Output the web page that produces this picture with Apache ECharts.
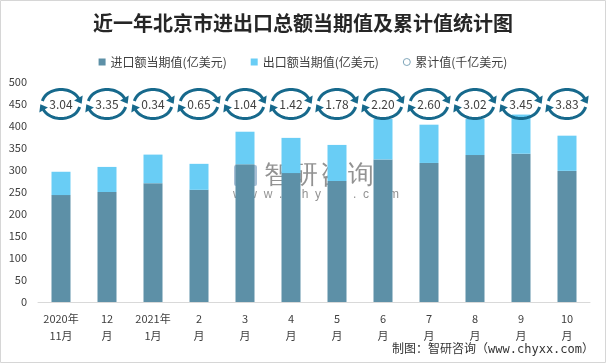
<!DOCTYPE html>
<html>
<head>
<meta charset="utf-8">
<script src="https://cdn.jsdelivr.net/npm/echarts@6/dist/echarts.min.js"></script>
<style>
html,body{margin:0;padding:0;background:#fff;}
#c{width:606px;height:363px;}
</style>
</head>
<body>
<div id="c"></div>
<script>
// ---- data ----
var categories = ['2020年\n11月','12\n月','2021年\n1月','2\n月','3\n月','4\n月','5\n月','6\n月','7\n月','8\n月','9\n月','10\n月'];
var importValues = [243, 250, 270, 255, 313, 293, 275, 324, 316, 334, 337, 298];
var exportValues = [53, 57, 65, 59, 74, 80, 82, 92, 87, 82, 89, 80];
var cumulativeValues = [3.04, 3.35, 0.34, 0.65, 1.04, 1.42, 1.78, 2.20, 2.60, 3.02, 3.45, 3.83];
var cumulativeRow = 450; // y level where the cumulative badges sit
var yTicks = {min: 0, max: 500, interval: 50};

var names = ['进口额当期值(亿美元)', '出口额当期值(亿美元)', '累计值(千亿美元)'];
var ringColor = '#17698C';
var textColor = '#404040';

var cumData = cumulativeValues.map(function (v, i) { return [i, cumulativeRow, v]; });

function ellipsePts(cx, cy, rx, ry, a0, a1, n) {
  var pts = [];
  for (var k = 0; k <= n; k++) {
    var t = (a0 + (a1 - a0) * k / n) * Math.PI / 180;
    pts.push([cx + rx * Math.cos(t), cy + ry * Math.sin(t)]);
  }
  return pts;
}
function arrowHead(cx, cy, rx, ry, a) {
  var t = a * Math.PI / 180;
  var bx = cx + rx * Math.cos(t), by = cy + ry * Math.sin(t);
  var tx = -rx * Math.sin(t), ty = ry * Math.cos(t);
  var tl = Math.sqrt(tx * tx + ty * ty); tx /= tl; ty /= tl;
  var nx = ty, ny = -tx;
  var L = 6.5, W = 5;
  return [[bx + tx * L, by + ty * L], [bx + nx * W, by + ny * W], [bx - nx * W, by - ny * W]];
}

var chart = echarts.init(document.getElementById('c'), null, {renderer: 'canvas'});
var font = '"Microsoft YaHei", "Noto Sans CJK SC", "Liberation Sans", sans-serif';
var wm = 'rgba(100,100,100,0.7)';

chart.setOption({
  animation: false,
  backgroundColor: '#fff',
  textStyle: {fontFamily: font},
  title: {
    text: '近一年北京市进出口总额当期值及累计值统计图',
    left: 'center', top: 8,
    textStyle: {fontSize: 20, fontWeight: 'bold', color: '#262626', fontFamily: '"Noto Sans CJK SC", sans-serif'}
  },
  legend: {
    top: 51, left: 'center',
    itemWidth: 7, itemHeight: 7, itemGap: 24,
    textStyle: {fontSize: 12, color: textColor},
    data: [
      {name: names[0], icon: 'rect'},
      {name: names[1], icon: 'rect'},
      {name: names[2], icon: 'circle', itemStyle: {color: '#fff', borderColor: '#7fa6ba', borderWidth: 1}}
    ]
  },
  grid: {left: 38, right: 16, top: 82, bottom: 61, containLabel: false},
  xAxis: {
    type: 'category', data: categories,
    axisLine: {lineStyle: {color: '#d9d9d9', width: 1}},
    axisTick: {show: false},
    axisLabel: {interval: 0, fontSize: 11, lineHeight: 17, color: textColor, margin: 8}
  },
  yAxis: {
    type: 'value', min: yTicks.min, max: yTicks.max, interval: yTicks.interval,
    axisLine: {show: false}, axisTick: {show: false}, splitLine: {show: false},
    axisLabel: {fontSize: 11, color: textColor, margin: 11}
  },
  series: [
    {name: names[0], type: 'bar', stack: 'total', data: importValues, barWidth: 19,
     itemStyle: {color: '#5D90A7'}},
    {name: names[1], type: 'bar', stack: 'total', data: exportValues, barWidth: 19,
     itemStyle: {color: '#69CDF5'}},
    {name: names[2], type: 'custom', data: cumData, z: 5,
     itemStyle: {color: '#fff', borderColor: '#7fa6ba'},
     encode: {x: 0, y: 1},
     renderItem: function (params, api) {
       var c = api.coord([api.value(0), api.value(1)]);
       var cx = c[0], cy = c[1], rx = 19, ry = 14.5;
       var st = {stroke: ringColor, lineWidth: 3, fill: null};
       return {
         type: 'group',
         children: [
           {type: 'polyline', shape: {points: ellipsePts(cx, cy, rx, ry, 192, 338, 30)}, style: st},
           {type: 'polyline', shape: {points: ellipsePts(cx, cy, rx, ry, 12, 158, 30)}, style: st},
           {type: 'polygon', shape: {points: arrowHead(cx, cy, rx, ry, 336)}, style: {fill: ringColor}},
           {type: 'polygon', shape: {points: arrowHead(cx, cy, rx, ry, 156)}, style: {fill: ringColor}},
           {type: 'text', style: {text: Number(api.value(2)).toFixed(2), x: cx, y: cy, align: 'center', verticalAlign: 'middle',
             fontSize: 12, fill: textColor, fontFamily: font}}
         ]
       };
     }}
  ],
  graphic: [
    {type: 'rect', shape: {x: 0.5, y: 0.5, width: 605, height: 362}, style: {fill: null, stroke: '#d6d6d6', lineWidth: 1}, z: 100},
    {type: 'group', z: 50, silent: true, children: [
      {type: 'rect', shape: {x: 234, y: 165, width: 23, height: 21, r: 2}, style: {fill: 'rgba(60,110,160,0.45)'}},
      {type: 'text', style: {text: '智', x: 264, y: 176, fontSize: 26, fill: wm, verticalAlign: 'middle'}},
      {type: 'text', style: {text: '研', x: 292, y: 176, fontSize: 26, fill: wm, verticalAlign: 'middle'}},
      {type: 'text', style: {text: '咨', x: 320, y: 176, fontSize: 26, fill: wm, verticalAlign: 'middle'}},
      {type: 'text', style: {text: '询', x: 348, y: 176, fontSize: 26, fill: wm, verticalAlign: 'middle'}},
      {type: 'text', style: {text: 'w  w  w  .  c  h  y  x  x  .  c  o  m', x: 233, y: 195, fontSize: 12, fill: wm, verticalAlign: 'middle'}}
    ]},
    {type: 'text', right: 12, top: 344, style: {text: '制图：智研咨询（www.chyxx.com）', fontSize: 12, fill: '#333',
      fontFamily: '"DejaVu Sans Mono", "Noto Sans CJK SC", monospace'}}
  ]
});
</script>
</body>
</html>
